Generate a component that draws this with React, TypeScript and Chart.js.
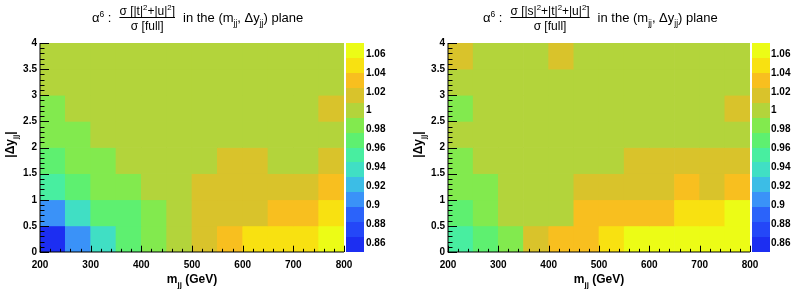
import React, { useEffect, useRef } from "react";
import { Chart, registerables } from "chart.js";
Chart.register(...registerables);

// ---------- data ----------
const MJJ_LOW_EDGES = [200, 250, 300, 350, 400, 450, 500, 550, 600, 650, 700, 750];
const MJJ_BIN_WIDTH = 50;
const DY_LOW_EDGES = [0, 0.5, 1, 1.5, 2, 2.5, 3, 3.5];
const DY_BIN_WIDTH = 0.5;

// rows: |Δy| bins from 0-0.5 (first) to 3.5-4 (last); columns: mjj bins 200..800
const RATIO_TU = [
  [0.858, 0.906, 0.937, 0.969, 0.985, 1.0, 1.016, 1.032, 1.048, 1.048, 1.048, 1.064],
  [0.906, 0.937, 0.969, 0.969, 0.985, 1.0, 1.016, 1.016, 1.016, 1.032, 1.032, 1.048],
  [0.953, 0.969, 0.985, 0.985, 1.0, 1.0, 1.016, 1.016, 1.016, 1.016, 1.016, 1.032],
  [0.969, 0.985, 0.985, 1.0, 1.0, 1.0, 1.0, 1.016, 1.016, 1.0, 1.0, 1.016],
  [0.985, 0.985, 1.0, 1.0, 1.0, 1.0, 1.0, 1.0, 1.0, 1.0, 1.0, 1.0],
  [0.985, 1.0, 1.0, 1.0, 1.0, 1.0, 1.0, 1.0, 1.0, 1.0, 1.0, 1.016],
  [1.0, 1.0, 1.0, 1.0, 1.0, 1.0, 1.0, 1.0, 1.0, 1.0, 1.0, 1.0],
  [1.0, 1.0, 1.0, 1.0, 1.0, 1.0, 1.0, 1.0, 1.0, 1.0, 1.0, 1.0],
];

const RATIO_STU = [
  [0.953, 0.969, 0.985, 1.016, 1.032, 1.032, 1.048, 1.064, 1.064, 1.064, 1.064, 1.064],
  [0.969, 0.985, 1.0, 1.0, 1.0, 1.032, 1.032, 1.032, 1.032, 1.048, 1.048, 1.064],
  [0.985, 0.985, 1.0, 1.0, 1.0, 1.016, 1.016, 1.016, 1.016, 1.032, 1.016, 1.032],
  [0.985, 1.0, 1.0, 1.0, 1.0, 1.0, 1.0, 1.016, 1.016, 1.016, 1.016, 1.016],
  [1.0, 1.0, 1.0, 1.0, 1.0, 1.0, 1.0, 1.0, 1.0, 1.0, 1.0, 1.0],
  [0.985, 1.0, 1.0, 1.0, 1.0, 1.0, 1.0, 1.0, 1.0, 1.0, 1.0, 1.016],
  [1.0, 1.0, 1.0, 1.0, 1.0, 1.0, 1.0, 1.0, 1.0, 1.0, 1.0, 1.0],
  [1.016, 1.0, 1.0, 1.0, 1.016, 1.0, 1.0, 1.0, 1.0, 1.0, 1.0, 1.0],
];

const Z_MIN = 0.8505;
const Z_MAX = 1.0716;
const Z_TICK_STEP = 0.02;
const PALETTE = [
  "#1c2ef2",
  "#2447f8",
  "#2b63fa",
  "#3a92f8",
  "#3cbde6",
  "#40dfc4",
  "#48eea0",
  "#5ef070",
  "#82ea4e",
  "#b3d43b",
  "#d9c32b",
  "#f8bf1f",
  "#f8e111",
  "#ecfc16",
];

// ---------- helpers ----------
const FAMILY = "'Liberation Sans', Arial, Helvetica, sans-serif";
type Seg = { t: string; sub?: boolean; sup?: boolean };

function colorFor(v: number) {
  const bw = (Z_MAX - Z_MIN) / PALETTE.length;
  let i = Math.floor((v - Z_MIN) / bw);
  if (i < 0) i = 0;
  if (i >= PALETTE.length) i = PALETTE.length - 1;
  return PALETTE[i];
}

function fontOf(size: number, weight: string) {
  return `${weight} ${size}px ${FAMILY}`;
}

function segsWidth(ctx: CanvasRenderingContext2D, segs: Seg[], size: number, weight: string) {
  let w = 0;
  for (const s of segs) {
    const sz = s.sub || s.sup ? size * 0.65 : size;
    ctx.font = fontOf(sz, weight);
    w += ctx.measureText(s.t).width;
  }
  return w;
}

function drawSegs(ctx: CanvasRenderingContext2D, x: number, y: number, segs: Seg[], size: number, weight: string) {
  for (const s of segs) {
    const sz = s.sub || s.sup ? size * 0.65 : size;
    const dy = s.sub ? size * 0.3 : s.sup ? -size * 0.42 : 0;
    ctx.font = fontOf(sz, weight);
    ctx.fillText(s.t, x, y + dy);
    x += ctx.measureText(s.t).width;
  }
  return x;
}

type PanelProps = {
  values: number[][];
  numerator: Seg[];
  width: number;
  left: number;
  yAxisWidth: number;
  zAxisWidth: number;
  zLabelPad: number;
  titleX: number;
};

const TOP = 43;
const XAXIS_H = 37;
const HEIGHT = 289;

function Panel(props: PanelProps) {
  const ref = useRef<HTMLCanvasElement>(null);
  useEffect(() => {
    const canvas = ref.current!;
    const points: any[] = [];
    const colors: string[] = [];
    DY_LOW_EDGES.forEach((dy, r) => {
      MJJ_LOW_EDGES.forEach((m, c) => {
        const v = props.values[r][c];
        points.push({ x: m + MJJ_BIN_WIDTH / 2, y: [dy, dy + DY_BIN_WIDTH], v });
        colors.push(colorFor(v));
      });
    });

    const decor = {
      id: "decor",
      afterDatasetsDraw(chart: any) {
        const ctx: CanvasRenderingContext2D = chart.ctx;
        const a = chart.chartArea;
        const xs = chart.scales.x;
        const ys = chart.scales.y;
        const zs = chart.scales.z;
        ctx.save();
        // colour bar
        const bw = (Z_MAX - Z_MIN) / PALETTE.length;
        PALETTE.forEach((col, i) => {
          const y0 = zs.getPixelForValue(Z_MIN + i * bw);
          const y1 = zs.getPixelForValue(Z_MIN + (i + 1) * bw);
          ctx.fillStyle = col;
          ctx.fillRect(a.right + 2, Math.round(y1), 18, Math.round(y0) - Math.round(y1));
        });
        // axis lines
        ctx.fillStyle = "#000";
        ctx.fillRect(a.left - 0.5, a.top, 1, a.bottom - a.top);
        ctx.fillRect(a.left - 0.5, a.bottom - 0.5, a.right - a.left + 0.5, 1);
        // ticks (inside, ROOT style)
        ctx.strokeStyle = "#000";
        ctx.lineWidth = 1;
        ctx.beginPath();
        for (let k = 0; k <= 40; k++) {
          const v = k * 0.1;
          const py = Math.round(ys.getPixelForValue(v)) + 0.5;
          const len = k % 5 === 0 ? 9 : 4.5;
          ctx.moveTo(a.left, py);
          ctx.lineTo(a.left + len, py);
        }
        for (let k = 0; k <= 30; k++) {
          const v = 200 + k * 20;
          const px = Math.round(xs.getPixelForValue(v)) + 0.5;
          const len = k % 5 === 0 ? 6.3 : 3.2;
          ctx.moveTo(px, a.bottom);
          ctx.lineTo(px, a.bottom - len);
        }
        ctx.stroke();
        ctx.restore();
      },
      afterDraw(chart: any) {
        const ctx: CanvasRenderingContext2D = chart.ctx;
        const a = chart.chartArea;
        ctx.save();
        ctx.fillStyle = "#000";
        ctx.textBaseline = "alphabetic";
        ctx.textAlign = "left";
        // title
        const T = 13;
        const F = 12;
        let x = props.titleX;
        x = drawSegs(ctx, x, 22, [{ t: "α" }, { t: "6", sup: true }, { t: " :" }], T, "normal");
        x += 8;
        const den: Seg[] = [{ t: "σ [full]" }];
        const wN = segsWidth(ctx, props.numerator, F, "normal");
        const wD = segsWidth(ctx, den, F, "normal");
        const wF = Math.max(wN, wD);
        drawSegs(ctx, x + (wF - wN) / 2, 15, props.numerator, F, "normal");
        ctx.fillRect(x, 17, wF, 1);
        drawSegs(ctx, x + (wF - wD) / 2, 30, den, F, "normal");
        x += wF + 8;
        drawSegs(
          ctx,
          x,
          22,
          [{ t: "in the (m" }, { t: "jj", sub: true }, { t: ", Δy" }, { t: "jj", sub: true }, { t: ") plane" }],
          T,
          "normal"
        );
        // x axis title
        const xt: Seg[] = [{ t: "m" }, { t: "jj", sub: true }, { t: " (GeV)" }];
        const wx = segsWidth(ctx, xt, 12, "bold");
        drawSegs(ctx, (a.left + a.right) / 2 - wx / 2, 283, xt, 12, "bold");
        // y axis title
        const yt: Seg[] = [{ t: "|Δy" }, { t: "jj", sub: true }, { t: "|" }];
        const wy = segsWidth(ctx, yt, 12, "bold");
        ctx.translate(a.left - 26, (a.top + a.bottom) / 2 - 3);
        ctx.rotate(-Math.PI / 2);
        drawSegs(ctx, -wy / 2, 0, yt, 12, "bold");
        ctx.restore();
      },
    };

    const tickFont = { family: FAMILY, size: 10, weight: "bold" as const };
    const chart = new Chart(canvas, {
      type: "bar",
      data: {
        datasets: [
          {
            data: points,
            backgroundColor: colors,
            borderWidth: 0,
            barPercentage: 1,
            categoryPercentage: 1,
          } as any,
        ],
      },
      options: {
        animation: false,
        responsive: false,
        devicePixelRatio: 1,
        events: [],
        layout: { padding: { top: TOP, left: 0, right: 0, bottom: 0 } },
        plugins: { legend: { display: false }, tooltip: { enabled: false }, title: { display: false } },
        scales: {
          x: {
            type: "linear",
            position: "bottom",
            min: 200,
            max: 800,
            offset: false,
            grid: { display: false, drawTicks: false },
            border: { display: false },
            ticks: { stepSize: 100, font: tickFont, color: "#000", padding: 7, maxRotation: 0 },
            afterFit: (s: any) => {
              s.height = XAXIS_H;
            },
          },
          y: {
            type: "linear",
            position: "left",
            min: 0,
            max: 4,
            grid: { display: false, drawTicks: false },
            border: { display: false },
            ticks: {
              stepSize: 0.5,
              font: tickFont,
              color: "#000",
              padding: 3,
              callback: (v: any) => String(+Number(v).toFixed(1)),
            },
            afterFit: (s: any) => {
              s.width = props.yAxisWidth;
            },
          },
          z: {
            type: "linear",
            axis: "y",
            position: "right",
            min: Z_MIN,
            max: Z_MAX,
            grid: { display: false, drawTicks: false },
            border: { display: false },
            ticks: {
              stepSize: Z_TICK_STEP,
              includeBounds: false,
              font: tickFont,
              color: "#000",
              padding: props.zLabelPad,
              callback: (v: any) => String(+Number(v).toFixed(2)),
            },
            afterFit: (s: any) => {
              s.width = props.zAxisWidth;
            },
          },
        } as any,
      },
      plugins: [decor],
    });
    return () => chart.destroy();
  }, []);
  return (
    <canvas
      ref={ref}
      width={props.width}
      height={HEIGHT}
      style={{ position: "absolute", left: props.left, top: 0, width: props.width, height: HEIGHT }}
    />
  );
}

const NUM_TU: Seg[] = [{ t: "σ [|t|" }, { t: "2", sup: true }, { t: "+|u|" }, { t: "2", sup: true }, { t: "]" }];
const NUM_STU: Seg[] = [
  { t: "σ [|s|" },
  { t: "2", sup: true },
  { t: "+|t|" },
  { t: "2", sup: true },
  { t: "+|u|" },
  { t: "2", sup: true },
  { t: "]" },
];

export default function App() {
  return (
    <div style={{ position: "absolute", left: 0, top: 0, width: 793, height: 289, background: "#fff" }}>
      <Panel values={RATIO_TU} numerator={NUM_TU} width={396} left={0} yAxisWidth={40} zAxisWidth={52} zLabelPad={22} titleX={92} />
      <Panel values={RATIO_STU} numerator={NUM_STU} width={397} left={396} yAxisWidth={52} zAxisWidth={43} zLabelPad={21} titleX={87} />
    </div>
  );
}
